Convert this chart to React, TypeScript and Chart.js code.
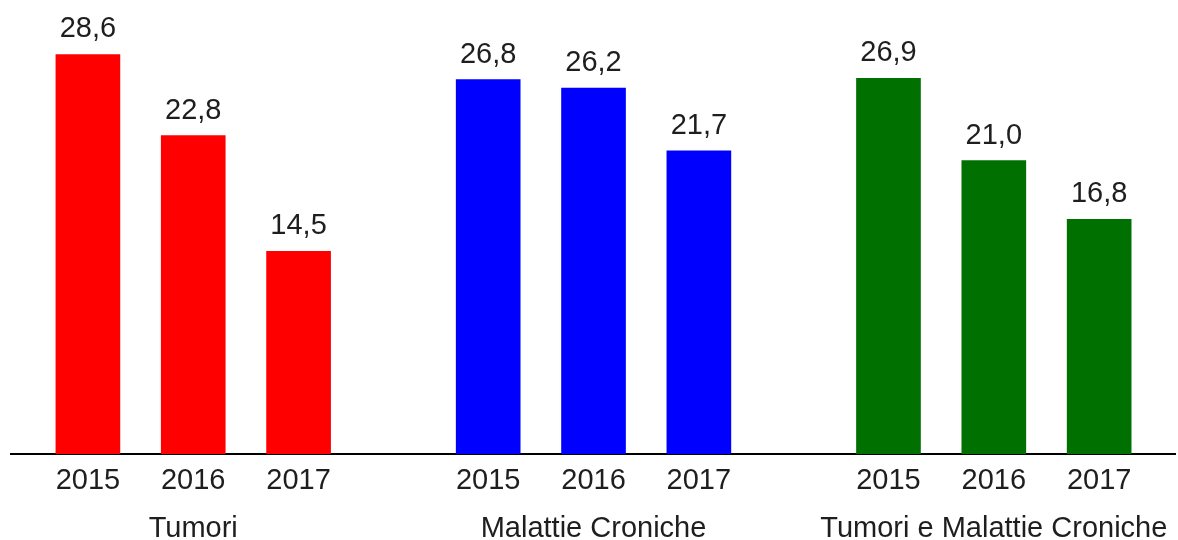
import React, { useEffect, useRef } from "react";
import { Chart, registerables } from "chart.js";

Chart.register(...registerables);

const groups = ["Tumori", "Malattie Croniche", "Tumori e Malattie Croniche"];
const years = ["2015", "2016", "2017"];
const tumori = [28.6, 22.8, 14.5];
const malattieCroniche = [26.8, 26.2, 21.7];
const tumoriEMalattie = [26.9, 21.0, 16.8];
const seriesValues = [tumori, malattieCroniche, tumoriEMalattie];
const colors = ["#FF0000", "#0000FF", "#007000"];

const GROUP_STRIDE = 3.8;
const FONT = '"Liberation Sans", Arial, sans-serif';
const TEXT_COLOR = "#1e1e1e";

const positions: number[] = [];
const tickLabels: string[][] = [];
groups.forEach((g, gi) => {
  years.forEach((y, yi) => {
    positions.push(gi * GROUP_STRIDE + yi);
    tickLabels.push([y, yi === 1 ? g : ""]);
  });
});

const valueLabels = {
  id: "valueLabels",
  afterDatasetsDraw(chart: any) {
    const ctx = chart.ctx;
    ctx.save();
    ctx.font = `29px ${FONT}`;
    ctx.fillStyle = TEXT_COLOR;
    ctx.textAlign = "center";
    ctx.textBaseline = "alphabetic";
    chart.data.datasets.forEach((ds: any, di: number) => {
      const meta = chart.getDatasetMeta(di);
      meta.data.forEach((bar: any, i: number) => {
        const v = ds.data[i].y as number;
        ctx.fillText(v.toFixed(1).replace(".", ","), bar.x, bar.y - 17);
      });
    });
    ctx.restore();
  },
};

export default function App() {
  const ref = useRef<HTMLCanvasElement>(null);
  useEffect(() => {
    if (!ref.current) return;
    const chart = new Chart(ref.current, {
      type: "bar",
      data: {
        datasets: groups.map((g, gi) => ({
          label: g,
          data: seriesValues[gi].map((v, yi) => ({ x: gi * GROUP_STRIDE + yi, y: v })),
          backgroundColor: colors[gi],
          barThickness: 64,
          grouped: false,
        })),
      },
      options: {
        animation: false,
        responsive: false,
        layout: { padding: { left: 11, right: 3, top: 0, bottom: 0 } },
        plugins: { legend: { display: false }, tooltip: { enabled: false } },
        scales: {
          x: {
            type: "linear",
            min: -0.73,
            max: 10.32,
            offset: false,
            grid: { display: false, drawTicks: false },
            border: { display: true, color: "#000", width: 2 },
            afterBuildTicks: (scale: any) => {
              scale.ticks = positions.map((p) => ({ value: p }));
            },
            afterFit: (scale: any) => {
              scale.height = 86;
            },
            ticks: {
              autoSkip: false,
              maxRotation: 0,
              minRotation: 0,
              padding: 3,
              color: TEXT_COLOR,
              font: { family: FONT, size: 29, lineHeight: 1.66 },
              callback: (_v: any, i: number) => tickLabels[i],
            },
          },
          y: {
            display: false,
            min: 0,
            max: 32.5,
          },
        },
      },
      plugins: [valueLabels],
    });
    return () => chart.destroy();
  }, []);
  return (
    <div style={{ position: "absolute", left: 0, top: 0, width: 1178, height: 540, background: "#fff" }}>
      <canvas ref={ref} width={1178} height={540} />
    </div>
  );
}
